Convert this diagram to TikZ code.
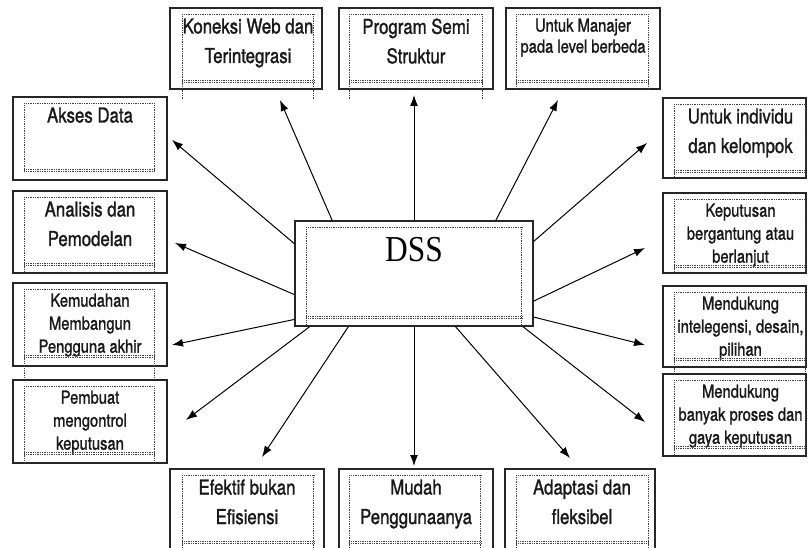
\documentclass[tikz,border=0pt]{standalone}
\usepackage{fontspec}
\setmainfont{TeX Gyre Heros}[FakeStretch=0.82, FakeBold=1.3]
\newfontfamily\dssfont{Liberation Serif}[FakeStretch=0.86]
\usetikzlibrary{arrows.meta,positioning}

\begin{document}
\begin{tikzpicture}[x=1pt,y=-1pt,
  kotak/.style={draw=black!85, line width=1.3pt, inner sep=0pt},
  teks/.style={inner sep=0pt, align=center, text=black!90, font=\fontsize{20.5}{29.5}\selectfont},
  tekskecil/.style={inner sep=0pt, align=center, text=black!90, font=\fontsize{18}{23}\selectfont},
  titik/.style={densely dotted, line width=0.75pt, draw=black!75},
  panah/.style={-{Latex[length=11pt,width=8pt]}, line width=1pt}]
  \useasboundingbox[fill=white] (0,0) rectangle (808,548);
  \clip (0,0) rectangle (808,548);

  % kotak tengah
  \node[kotak, minimum width=238pt, minimum height=105pt] (dss) at (414,273.5) {};
  \node[below=17pt of dss.north, inner sep=0pt, font=\dssfont\fontsize{36.5}{40}\selectfont] (dss-t) {DSS};

  % kolom kiri
  \node[kotak, minimum width=154pt, minimum height=83pt] (akses) at (90,138.5) {};
  \node[kotak, minimum width=154pt, minimum height=82pt] (analisis) at (90,232) {};
  \node[kotak, minimum width=154pt, minimum height=83pt] (kemudahan) at (90,324.5) {};
  \node[kotak, minimum width=154pt, minimum height=83pt] (pembuat) at (90,421.5) {};
  \node[teks, below=11pt of akses.north] (akses-t) {Akses Data};
  \node[teks, below=11pt of analisis.north] (analisis-t) {Analisis dan\\Pemodelan};
  \node[tekskecil, below=11pt of kemudahan.north] (kemudahan-t) {Kemudahan\\Membangun\\Pengguna akhir};
  \node[tekskecil, below=11pt of pembuat.north] (pembuat-t) {Pembuat\\mengontrol\\keputusan};

  % baris atas
  \node[kotak, minimum width=152pt, minimum height=81pt] (koneksi) at (246,48.5) {};
  \node[kotak, minimum width=154pt, minimum height=81pt] (program) at (416,48.5) {};
  \node[kotak, minimum width=154pt, minimum height=81pt] (manajer) at (583,48.5) {};
  \node[teks, below=11pt of koneksi.north, xshift=2pt] (koneksi-t) {Koneksi Web dan\\Terintegrasi};
  \node[teks, below=11pt of program.north] (program-t) {Program Semi\\Struktur};
  \node[tekskecil, below=11pt of manajer.north, font=\fontsize{18}{21}\selectfont] (manajer-t) {Untuk Manajer\\pada level berbeda};

  % kolom kanan
  \node[kotak, minimum width=143pt, minimum height=80pt] (individu) at (734.5,138) {};
  \node[kotak, minimum width=143pt, minimum height=80pt] (keputusan) at (734.5,233) {};
  \node[kotak, minimum width=143pt, minimum height=81pt] (intel) at (734.5,326.5) {};
  \node[kotak, minimum width=143pt, minimum height=82pt] (banyak) at (734.5,415) {};
  \node[teks, below=11pt of individu.north, xshift=6pt] (individu-t) {Untuk individu\\dan kelompok};
  \node[tekskecil, below=11pt of keputusan.north, xshift=6pt] (keputusan-t) {Keputusan\\bergantung atau\\berlanjut};
  \node[tekskecil, below=11pt of intel.north, xshift=6pt] (intel-t) {Mendukung\\intelegensi, desain,\\pilihan};
  \node[tekskecil, below=11pt of banyak.north, xshift=6pt] (banyak-t) {Mendukung\\banyak proses dan\\gaya keputusan};

  % baris bawah
  \node[kotak, minimum width=154pt, minimum height=90pt] (efektif) at (247,514) {};
  \node[kotak, minimum width=154pt, minimum height=90pt] (mudah) at (416,514) {};
  \node[kotak, minimum width=150pt, minimum height=90pt] (adaptasi) at (580,514) {};
  \node[teks, below=11pt of efektif.north] (efektif-t) {Efektif bukan\\Efisiensi};
  \node[teks, below=11pt of mudah.north] (mudah-t) {Mudah\\Penggunaanya};
  \node[teks, below=11pt of adaptasi.north, xshift=2pt] (adaptasi-t) {Adaptasi dan\\fleksibel};

  % bingkai titik-titik di dalam kotak
  \foreach \n/\a/\b/\g/\e in {dss/12/12/96/105, akses/12/13/73/74.6, analisis/12/13/73/84,
      kemudahan/12/13/73/95, pembuat/12/13/73/83, koneksi/13/9/73/92, program/11/11/73/92,
      manajer/11/12/73/81, individu/12/1.5/73/80, keputusan/12/1.5/73/80, intel/12/1.5/73/87,
      banyak/12/1.5/73/82, efektif/13/11/73/90, mudah/11/13/73/90, adaptasi/12/7/73/90}{
    \draw[titik] ([xshift=\a pt, yshift=-7pt]\n.north west) -- ([xshift=-\b pt, yshift=-7pt]\n.north east);
    \draw[titik] ([xshift=\a pt, yshift=-7pt]\n.north west) -- ([xshift=\a pt, yshift=-\e pt]\n.north west);
    \draw[titik] ([xshift=-\b pt, yshift=-7pt]\n.north east) -- ([xshift=-\b pt, yshift=-\e pt]\n.north east);
    \draw[titik] ([xshift=\a pt, yshift=-\g pt]\n.north west) -- ([xshift=-\b pt, yshift=-\g pt]\n.north east);
    \draw[titik] ([xshift=\a pt, yshift=-\g pt-1.6pt]\n.north west) -- ([xshift=-\b pt, yshift=-\g pt-1.6pt]\n.north east);
  }

  % ujung panah
  \coordinate (u-akses) at (172,140);
  \coordinate (u-analisis) at (175,243);
  \coordinate (u-kemudahan) at (172,345);
  \coordinate (u-pembuat) at (186,420);
  \coordinate (u-efektif) at (262,457);
  \coordinate (u-mudah) at (414,466);
  \coordinate (u-adaptasi) at (570,458);
  \coordinate (u-banyak) at (645,422);
  \coordinate (u-intel) at (645,345);
  \coordinate (u-keputusan) at (645,248);
  \coordinate (u-individu) at (647,143);
  \coordinate (u-manajer) at (558,100);
  \coordinate (u-program) at (414,95);
  \coordinate (u-koneksi) at (280,100);

  \draw[panah] (dss.166) -- (u-akses);
  \draw[panah] (dss.190) -- (u-analisis);
  \draw[panah] (dss.201) -- (u-kemudahan);
  \draw[panah] (dss.207) -- (u-pembuat);
  \draw[panah] (dss.219) -- (u-efektif);
  \draw[panah] (dss.south) -- (u-mudah);
  \draw[panah] (dss.308) -- (u-adaptasi);
  \draw[panah] (dss.334) -- (u-banyak);
  \draw[panah] (dss.340) -- (u-intel);
  \draw[panah] (dss.347) -- (u-keputusan);
  \draw[panah] (dss.15) -- (u-individu);
  \draw[panah] (dss.33) -- (u-manajer);
  \draw[panah] (dss.north) -- (u-program);
  \draw[panah] (dss.147) -- (u-koneksi);
\end{tikzpicture}
\end{document}
